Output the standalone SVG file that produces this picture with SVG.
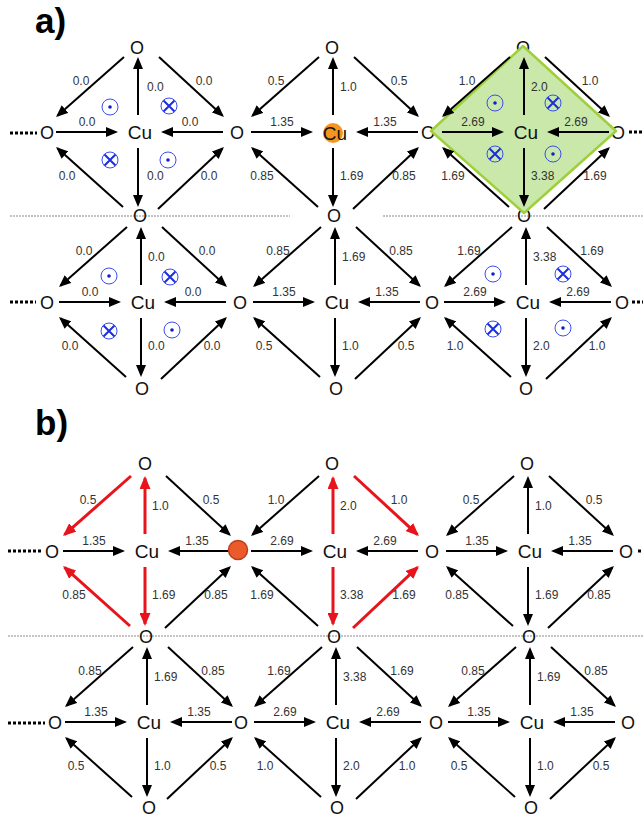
<svg xmlns="http://www.w3.org/2000/svg" xmlns:xlink="http://www.w3.org/1999/xlink" width="643" height="818" viewBox="0 0 643 818">
<style>
.o{font-family:"Liberation Sans",Arial,sans-serif;font-size:18px;text-anchor:middle;fill:#111}
.cu{font-family:"Liberation Sans",Arial,sans-serif;font-size:19px;text-anchor:middle;fill:#111}
.lb{font-family:"Liberation Sans",Arial,sans-serif;font-size:12px;fill:#333}
.m{text-anchor:middle}
.s{text-anchor:start}
.ttl{font-family:"Liberation Sans",Arial,sans-serif;font-size:35px;font-weight:bold;fill:#000}
.ar{stroke:#000;stroke-width:2;fill:none;marker-end:url(#ah)}
.rd{stroke:#e8141c;stroke-width:3;marker-end:url(#ahr)}
.dots{stroke:#000;stroke-width:3;stroke-dasharray:3 2}
.sep{stroke:#8a8a8a;stroke-width:1.2;stroke-dasharray:2 1}
.sc{fill:none;stroke:#3a4ef0;stroke-width:1}
.sx{stroke:#1a2ee0;stroke-width:2}
.sd{fill:#1020d0}
</style>
<defs>
<marker id="ah" viewBox="0 0 12 10" refX="10" refY="5" markerWidth="12" markerHeight="10" markerUnits="userSpaceOnUse" orient="auto"><path d="M0,0 L12,5 L0,10 z" fill="#000"/></marker>
<marker id="ahr" viewBox="0 0 13 11" refX="11" refY="5.5" markerWidth="13" markerHeight="11" markerUnits="userSpaceOnUse" orient="auto"><path d="M0,0 L13,5.5 L0,11 z" fill="#e8141c"/></marker>
<g id="cdot"><circle r="8" class="sc"/><circle r="1.8" class="sd"/></g>
<g id="cx"><circle r="8" class="sc"/><path d="M-5.5,-5.5 L5.5,5.5 M5.5,-5.5 L-5.5,5.5" class="sx"/></g>
</defs>

<g id="separators">
<line class="sep" x1="10" y1="216" x2="290" y2="216"/>
<line class="sep" x1="383" y1="216" x2="643" y2="216"/>
<line class="sep" x1="8" y1="636" x2="643" y2="636"/>
</g>
<g id="continuation">
<line class="dots" x1="10" y1="133" x2="37" y2="133"/>
<line class="dots" x1="10" y1="302" x2="36" y2="302"/>
<line class="dots" x1="8" y1="551" x2="43" y2="551"/>
<line class="dots" x1="8" y1="723" x2="45" y2="723"/>
<line class="dots" x1="629" y1="132" x2="643" y2="132"/>
<line class="dots" x1="632" y1="302" x2="643" y2="302"/>
<line class="dots" x1="638" y1="551" x2="643" y2="551"/>
</g>

<!-- O nodes panel a -->
<g id="a_O_top1"><text class="o" x="137" y="53.5">O</text></g>
<g id="a_O_top2"><text class="o" x="332" y="53.5">O</text></g>
<g id="a_O_top3"><text class="o" x="523" y="53.5">O</text></g>
<g id="a_O_r1_0"><text class="o" x="47" y="138.5">O</text></g>
<g id="a_O_r1_1"><text class="o" x="237" y="138.5">O</text></g>
<g id="a_O_r1_2"><text class="o" x="428" y="138.5">O</text></g>
<g id="a_O_r1_3"><text class="o" x="618" y="138.5">O</text></g>
<g id="a_O_mid1"><text class="o" x="140" y="221.5">O</text></g>
<g id="a_O_mid2"><text class="o" x="334" y="221.5">O</text></g>
<g id="a_O_mid3"><text class="o" x="524" y="221.5">O</text></g>
<g id="a_O_r2_0"><text class="o" x="47" y="308.5">O</text></g>
<g id="a_O_r2_1"><text class="o" x="240" y="308.5">O</text></g>
<g id="a_O_r2_2"><text class="o" x="432" y="308.5">O</text></g>
<g id="a_O_r2_3"><text class="o" x="622" y="308.5">O</text></g>
<g id="a_O_bot1"><text class="o" x="142" y="394.5">O</text></g>
<g id="a_O_bot2"><text class="o" x="336" y="394.5">O</text></g>
<g id="a_O_bot3"><text class="o" x="526" y="394.5">O</text></g>
<!-- O nodes panel b -->
<g id="b_O_top1"><text class="o" x="145" y="469.5">O</text></g>
<g id="b_O_top2"><text class="o" x="332" y="469.5">O</text></g>
<g id="b_O_top3"><text class="o" x="527" y="469.5">O</text></g>
<g id="b_O_r1_0"><text class="o" x="52" y="557.5">O</text></g>
<g id="b_O_r1_2"><text class="o" x="432" y="557.5">O</text></g>
<g id="b_O_r1_3"><text class="o" x="626" y="557.5">O</text></g>
<g id="b_O_mid1"><text class="o" x="146" y="642.5">O</text></g>
<g id="b_O_mid2"><text class="o" x="334" y="642.5">O</text></g>
<g id="b_O_mid3"><text class="o" x="529" y="642.5">O</text></g>
<g id="b_O_r2_0"><text class="o" x="55" y="728.5">O</text></g>
<g id="b_O_r2_1"><text class="o" x="241" y="728.5">O</text></g>
<g id="b_O_r2_2"><text class="o" x="436" y="728.5">O</text></g>
<g id="b_O_r2_3"><text class="o" x="628" y="728.5">O</text></g>
<g id="b_O_bot1"><text class="o" x="149" y="814">O</text></g>
<g id="b_O_bot2"><text class="o" x="337" y="814">O</text></g>
<g id="b_O_bot3"><text class="o" x="531" y="814">O</text></g>

<g id="highlight"><polygon points="523,46 616,131 524,213 431,131" fill="#c9e8a9" stroke="#9fcf3a" stroke-width="2.5" stroke-linejoin="round"/></g>
<g id="a_Cu_site"><circle cx="333" cy="133" r="10" fill="#f7941d"/></g>

<g id="connectors">
<g transform="translate(138,132)">
<line class="ar" x1="0" y1="-17" x2="0" y2="-73"/><line class="ar" x1="0" y1="16" x2="0" y2="73"/>
<line class="ar" x1="-82" y1="0" x2="-22" y2="0"/><line class="ar" x1="85" y1="0" x2="25" y2="0"/>
<line class="ar" x1="-14" y1="-75" x2="-80.5" y2="-16.3"/><line class="ar" x1="21" y1="-75" x2="84.5" y2="-16.4"/>
<line class="ar" x1="-15" y1="75" x2="-80.5" y2="16.3"/><line class="ar" x1="20" y1="77" x2="84.5" y2="16.4"/>
</g>
<g transform="translate(333,132)">
<line class="ar" x1="0" y1="-17" x2="0" y2="-73"/><line class="ar" x1="0" y1="16" x2="0" y2="73"/>
<line class="ar" x1="-82" y1="0" x2="-22" y2="0"/><line class="ar" x1="85" y1="0" x2="25" y2="0"/>
<line class="ar" x1="-14" y1="-75" x2="-80.5" y2="-16.3"/><line class="ar" x1="21" y1="-75" x2="84.5" y2="-16.4"/>
<line class="ar" x1="-15" y1="75" x2="-80.5" y2="16.3"/><line class="ar" x1="20" y1="77" x2="84.5" y2="16.4"/>
</g>
<g transform="translate(524,132)">
<line class="ar" x1="0" y1="-17" x2="0" y2="-73"/><line class="ar" x1="0" y1="16" x2="0" y2="73"/>
<line class="ar" x1="-82" y1="0" x2="-22" y2="0"/><line class="ar" x1="85" y1="0" x2="25" y2="0"/>
<line class="ar" x1="-14" y1="-75" x2="-80.5" y2="-16.3"/><line class="ar" x1="21" y1="-75" x2="84.5" y2="-16.4"/>
<line class="ar" x1="-15" y1="75" x2="-80.5" y2="16.3"/><line class="ar" x1="20" y1="77" x2="84.5" y2="16.4"/>
</g>
<g transform="translate(141,302)">
<line class="ar" x1="0" y1="-17" x2="0" y2="-73"/><line class="ar" x1="0" y1="16" x2="0" y2="73"/>
<line class="ar" x1="-82" y1="0" x2="-22" y2="0"/><line class="ar" x1="85" y1="0" x2="25" y2="0"/>
<line class="ar" x1="-14" y1="-75" x2="-80.5" y2="-16.3"/><line class="ar" x1="21" y1="-75" x2="84.5" y2="-16.4"/>
<line class="ar" x1="-15" y1="75" x2="-80.5" y2="16.3"/><line class="ar" x1="20" y1="77" x2="84.5" y2="16.4"/>
</g>
<g transform="translate(335,302)">
<line class="ar" x1="0" y1="-17" x2="0" y2="-73"/><line class="ar" x1="0" y1="16" x2="0" y2="73"/>
<line class="ar" x1="-82" y1="0" x2="-22" y2="0"/><line class="ar" x1="85" y1="0" x2="25" y2="0"/>
<line class="ar" x1="-14" y1="-75" x2="-80.5" y2="-16.3"/><line class="ar" x1="21" y1="-75" x2="84.5" y2="-16.4"/>
<line class="ar" x1="-15" y1="75" x2="-80.5" y2="16.3"/><line class="ar" x1="20" y1="77" x2="84.5" y2="16.4"/>
</g>
<g transform="translate(526,302)">
<line class="ar" x1="0" y1="-17" x2="0" y2="-73"/><line class="ar" x1="0" y1="16" x2="0" y2="73"/>
<line class="ar" x1="-82" y1="0" x2="-22" y2="0"/><line class="ar" x1="85" y1="0" x2="25" y2="0"/>
<line class="ar" x1="-14" y1="-75" x2="-80.5" y2="-16.3"/><line class="ar" x1="21" y1="-75" x2="84.5" y2="-16.4"/>
<line class="ar" x1="-15" y1="75" x2="-80.5" y2="16.3"/><line class="ar" x1="20" y1="77" x2="84.5" y2="16.4"/>
</g>
<g transform="translate(145,551)">
<line class="ar rd" x1="0" y1="-17" x2="0" y2="-73"/><line class="ar rd" x1="0" y1="16" x2="0" y2="73"/>
<line class="ar" x1="-82" y1="0" x2="-22" y2="0"/><line class="ar" x1="85" y1="0" x2="25" y2="0"/>
<line class="ar rd" x1="-14" y1="-75" x2="-80.5" y2="-16.3"/><line class="ar" x1="21" y1="-75" x2="84.5" y2="-16.4"/>
<line class="ar rd" x1="-15" y1="75" x2="-80.5" y2="16.3"/><line class="ar" x1="20" y1="77" x2="84.5" y2="16.4"/>
</g>
<g transform="translate(333,551)">
<line class="ar rd" x1="0" y1="-17" x2="0" y2="-73"/><line class="ar rd" x1="0" y1="16" x2="0" y2="73"/>
<line class="ar" x1="-82" y1="0" x2="-22" y2="0"/><line class="ar" x1="85" y1="0" x2="25" y2="0"/>
<line class="ar" x1="-14" y1="-75" x2="-80.5" y2="-16.3"/><line class="ar rd" x1="21" y1="-75" x2="84.5" y2="-16.4"/>
<line class="ar" x1="-15" y1="75" x2="-80.5" y2="16.3"/><line class="ar rd" x1="20" y1="77" x2="84.5" y2="16.4"/>
</g>
<g transform="translate(528,551)">
<line class="ar" x1="0" y1="-17" x2="0" y2="-73"/><line class="ar" x1="0" y1="16" x2="0" y2="73"/>
<line class="ar" x1="-82" y1="0" x2="-22" y2="0"/><line class="ar" x1="85" y1="0" x2="25" y2="0"/>
<line class="ar" x1="-14" y1="-75" x2="-80.5" y2="-16.3"/><line class="ar" x1="21" y1="-75" x2="84.5" y2="-16.4"/>
<line class="ar" x1="-15" y1="75" x2="-80.5" y2="16.3"/><line class="ar" x1="20" y1="77" x2="84.5" y2="16.4"/>
</g>
<g transform="translate(147,722)">
<line class="ar" x1="0" y1="-17" x2="0" y2="-73"/><line class="ar" x1="0" y1="16" x2="0" y2="73"/>
<line class="ar" x1="-82" y1="0" x2="-22" y2="0"/><line class="ar" x1="85" y1="0" x2="25" y2="0"/>
<line class="ar" x1="-14" y1="-75" x2="-80.5" y2="-16.3"/><line class="ar" x1="21" y1="-75" x2="84.5" y2="-16.4"/>
<line class="ar" x1="-15" y1="75" x2="-80.5" y2="16.3"/><line class="ar" x1="20" y1="77" x2="84.5" y2="16.4"/>
</g>
<g transform="translate(336,722)">
<line class="ar" x1="0" y1="-17" x2="0" y2="-73"/><line class="ar" x1="0" y1="16" x2="0" y2="73"/>
<line class="ar" x1="-82" y1="0" x2="-22" y2="0"/><line class="ar" x1="85" y1="0" x2="25" y2="0"/>
<line class="ar" x1="-14" y1="-75" x2="-80.5" y2="-16.3"/><line class="ar" x1="21" y1="-75" x2="84.5" y2="-16.4"/>
<line class="ar" x1="-15" y1="75" x2="-80.5" y2="16.3"/><line class="ar" x1="20" y1="77" x2="84.5" y2="16.4"/>
</g>
<g transform="translate(530,722)">
<line class="ar" x1="0" y1="-17" x2="0" y2="-73"/><line class="ar" x1="0" y1="16" x2="0" y2="73"/>
<line class="ar" x1="-82" y1="0" x2="-22" y2="0"/><line class="ar" x1="85" y1="0" x2="25" y2="0"/>
<line class="ar" x1="-14" y1="-75" x2="-80.5" y2="-16.3"/><line class="ar" x1="21" y1="-75" x2="84.5" y2="-16.4"/>
<line class="ar" x1="-15" y1="75" x2="-80.5" y2="16.3"/><line class="ar" x1="20" y1="77" x2="84.5" y2="16.4"/>
</g>
</g>

<g id="b_O_r1_1"><circle cx="238" cy="550" r="9.5" fill="#ec5a2c" stroke="#b8401c" stroke-width="1.5"/></g>

<!-- Cu nodes -->
<g id="a_Cu_11"><text class="cu" x="140" y="139">Cu</text></g>
<g id="a_Cu_12"><text class="cu" x="335" y="140">Cu</text></g>
<g id="a_Cu_13"><text class="cu" x="526" y="139">Cu</text></g>
<g id="a_Cu_21"><text class="cu" x="143" y="309">Cu</text></g>
<g id="a_Cu_22"><text class="cu" x="337" y="309">Cu</text></g>
<g id="a_Cu_23"><text class="cu" x="528" y="309">Cu</text></g>
<g id="b_Cu_11"><text class="cu" x="147" y="558">Cu</text></g>
<g id="b_Cu_12"><text class="cu" x="335" y="558">Cu</text></g>
<g id="b_Cu_13"><text class="cu" x="530" y="558">Cu</text></g>
<g id="b_Cu_21"><text class="cu" x="149" y="729">Cu</text></g>
<g id="b_Cu_22"><text class="cu" x="338" y="729">Cu</text></g>
<g id="b_Cu_23"><text class="cu" x="532" y="729">Cu</text></g>

<g id="labels">
<g transform="translate(138,132)">
<text class="lb m" x="-57" y="-47">0.0</text><text class="lb s" x="9" y="-41">0.0</text><text class="lb m" x="66" y="-47">0.0</text>
<text class="lb m" x="-51" y="-6">0.0</text><text class="lb m" x="52" y="-6">0.0</text>
<text class="lb m" x="-71" y="48">0.0</text><text class="lb s" x="9" y="48">0.0</text><text class="lb m" x="71" y="48">0.0</text>
</g>
<g transform="translate(333,132)">
<text class="lb m" x="-57" y="-47">0.5</text><text class="lb s" x="7" y="-41">1.0</text><text class="lb m" x="66" y="-47">0.5</text>
<text class="lb m" x="-51" y="-6">1.35</text><text class="lb m" x="52" y="-6">1.35</text>
<text class="lb m" x="-71" y="48">0.85</text><text class="lb s" x="7" y="48">1.69</text><text class="lb m" x="71" y="48">0.85</text>
</g>
<g transform="translate(524,132)">
<text class="lb m" x="-57" y="-47">1.0</text><text class="lb s" x="7" y="-41">2.0</text><text class="lb m" x="66" y="-47">1.0</text>
<text class="lb m" x="-51" y="-6">2.69</text><text class="lb m" x="52" y="-6">2.69</text>
<text class="lb m" x="-71" y="48">1.69</text><text class="lb s" x="7" y="48">3.38</text><text class="lb m" x="71" y="48">1.69</text>
</g>
<g transform="translate(141,302)">
<text class="lb m" x="-57" y="-47">0.0</text><text class="lb s" x="7" y="-41">0.0</text><text class="lb m" x="66" y="-47">0.0</text>
<text class="lb m" x="-51" y="-6">0.0</text><text class="lb m" x="52" y="-6">0.0</text>
<text class="lb m" x="-71" y="48">0.0</text><text class="lb s" x="7" y="48">0.0</text><text class="lb m" x="71" y="48">0.0</text>
</g>
<g transform="translate(335,302)">
<text class="lb m" x="-57" y="-47">0.85</text><text class="lb s" x="7" y="-41">1.69</text><text class="lb m" x="66" y="-47">0.85</text>
<text class="lb m" x="-51" y="-6">1.35</text><text class="lb m" x="52" y="-6">1.35</text>
<text class="lb m" x="-71" y="48">0.5</text><text class="lb s" x="7" y="48">1.0</text><text class="lb m" x="71" y="48">0.5</text>
</g>
<g transform="translate(526,302)">
<text class="lb m" x="-57" y="-47">1.69</text><text class="lb s" x="7" y="-41">3.38</text><text class="lb m" x="66" y="-47">1.69</text>
<text class="lb m" x="-51" y="-6">2.69</text><text class="lb m" x="52" y="-6">2.69</text>
<text class="lb m" x="-71" y="48">1.0</text><text class="lb s" x="7" y="48">2.0</text><text class="lb m" x="71" y="48">1.0</text>
</g>
<g transform="translate(145,551)">
<text class="lb m" x="-57" y="-47">0.5</text><text class="lb s" x="7" y="-41">1.0</text><text class="lb m" x="66" y="-47">0.5</text>
<text class="lb m" x="-51" y="-6">1.35</text><text class="lb m" x="52" y="-6">1.35</text>
<text class="lb m" x="-71" y="48">0.85</text><text class="lb s" x="7" y="48">1.69</text><text class="lb m" x="71" y="48">0.85</text>
</g>
<g transform="translate(333,551)">
<text class="lb m" x="-57" y="-47">1.0</text><text class="lb s" x="7" y="-41">2.0</text><text class="lb m" x="66" y="-47">1.0</text>
<text class="lb m" x="-51" y="-6">2.69</text><text class="lb m" x="52" y="-6">2.69</text>
<text class="lb m" x="-71" y="48">1.69</text><text class="lb s" x="7" y="48">3.38</text><text class="lb m" x="71" y="48">1.69</text>
</g>
<g transform="translate(528,551)">
<text class="lb m" x="-57" y="-47">0.5</text><text class="lb s" x="7" y="-41">1.0</text><text class="lb m" x="66" y="-47">0.5</text>
<text class="lb m" x="-51" y="-6">1.35</text><text class="lb m" x="52" y="-6">1.35</text>
<text class="lb m" x="-71" y="48">0.85</text><text class="lb s" x="7" y="48">1.69</text><text class="lb m" x="71" y="48">0.85</text>
</g>
<g transform="translate(147,722)">
<text class="lb m" x="-57" y="-47">0.85</text><text class="lb s" x="7" y="-41">1.69</text><text class="lb m" x="66" y="-47">0.85</text>
<text class="lb m" x="-51" y="-6">1.35</text><text class="lb m" x="52" y="-6">1.35</text>
<text class="lb m" x="-71" y="48">0.5</text><text class="lb s" x="7" y="48">1.0</text><text class="lb m" x="71" y="48">0.5</text>
</g>
<g transform="translate(336,722)">
<text class="lb m" x="-57" y="-47">1.69</text><text class="lb s" x="7" y="-41">3.38</text><text class="lb m" x="66" y="-47">1.69</text>
<text class="lb m" x="-51" y="-6">2.69</text><text class="lb m" x="52" y="-6">2.69</text>
<text class="lb m" x="-71" y="48">1.0</text><text class="lb s" x="7" y="48">2.0</text><text class="lb m" x="71" y="48">1.0</text>
</g>
<g transform="translate(530,722)">
<text class="lb m" x="-57" y="-47">0.85</text><text class="lb s" x="7" y="-41">1.69</text><text class="lb m" x="66" y="-47">0.85</text>
<text class="lb m" x="-51" y="-6">1.35</text><text class="lb m" x="52" y="-6">1.35</text>
<text class="lb m" x="-71" y="48">0.5</text><text class="lb s" x="7" y="48">1.0</text><text class="lb m" x="71" y="48">0.5</text>
</g>
</g>

<g id="moments">
<use xlink:href="#cdot" x="110" y="107"/><use xlink:href="#cx" x="169" y="106"/><use xlink:href="#cx" x="110" y="160"/><use xlink:href="#cdot" x="168" y="160"/>
<use xlink:href="#cdot" x="495" y="103"/><use xlink:href="#cx" x="553" y="103"/><use xlink:href="#cx" x="495" y="154"/><use xlink:href="#cdot" x="553" y="154"/>
<use xlink:href="#cdot" x="109" y="276"/><use xlink:href="#cx" x="170" y="277"/><use xlink:href="#cx" x="109" y="331"/><use xlink:href="#cdot" x="172" y="330"/>
<use xlink:href="#cdot" x="493" y="274"/><use xlink:href="#cx" x="563" y="274"/><use xlink:href="#cx" x="493" y="329"/><use xlink:href="#cdot" x="563" y="328"/>
</g>

<g id="panel_labels">
<text class="ttl" x="35" y="33">a)</text>
<text class="ttl" x="35" y="435">b)</text>
</g>
</svg>
